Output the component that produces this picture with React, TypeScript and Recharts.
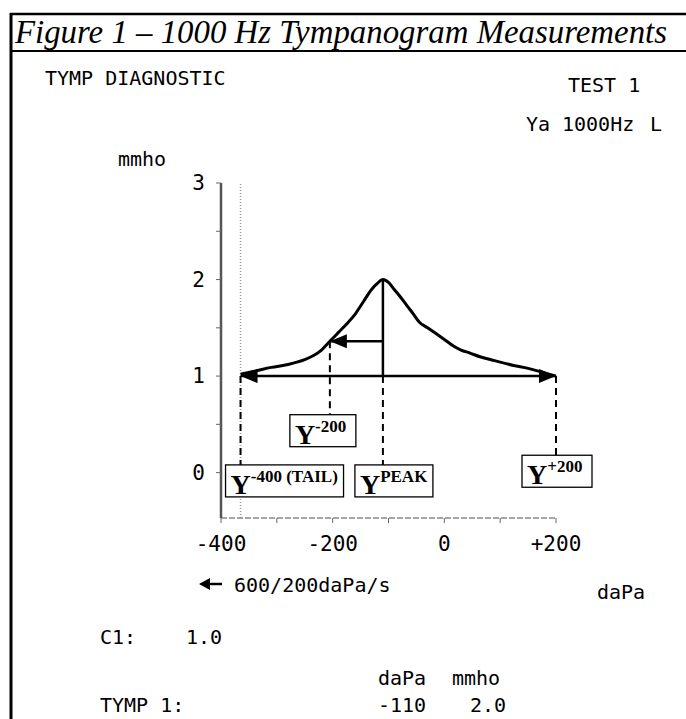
import React from 'react';
import { LineChart, Line, XAxis, YAxis, ReferenceLine, ReferenceDot } from 'recharts';

// tympanogram trace (daPa, mmho)
const pressure = [-365, -340, -310, -280, -250, -235, -220, -205, -190, -175, -160, -145, -130, -120, -110, -100, -90, -80, -67, -55, -45, -30, -15, 0, 17, 30, 45, 64, 90, 124, 150, 175, 200];
const admittance = [1.02, 1.05, 1.09, 1.12, 1.17, 1.21, 1.27, 1.36, 1.45, 1.54, 1.64, 1.77, 1.9, 1.96, 2.0, 1.97, 1.9, 1.83, 1.73, 1.64, 1.56, 1.5, 1.44, 1.38, 1.31, 1.27, 1.24, 1.2, 1.16, 1.11, 1.08, 1.04, 1.0];

const xTicks = [-400, -300, -200, -100, 0, 100, 200];
const xTickLabels: Record<number, string> = { '-400': '-400', '-200': '-200', 0: '0', 200: '+200' };
const yTicks = [0, 0.5, 1, 1.5, 2, 2.5, 3];

// measurement points
const tailP = -365;
const baseY = 1.0;
const peakP = -110;
const peakY = 2.0;
const minus200P = -205;
const minus200Y = 1.36;
const plus200P = 200;

// callout boxes: where the dashed drop line ends, and the label
const callouts = [
  { key: 'tail', x: tailP, y: 0.08, sup: '-400 (TAIL)', dx: -15, w: 118 },
  { key: 'm200', x: minus200P, y: 0.6, sup: '-200', dx: -40, w: 66 },
  { key: 'peak', x: peakP, y: 0.08, sup: 'PEAK', dx: -28, w: 78 },
  { key: 'p200', x: plus200P, y: 0.18, sup: '+200', dx: -34, w: 70 },
];

const curve = pressure.map((p, i) => ({ p, y: admittance[i] }));

const MONO = '"DejaVu Sans Mono", monospace';
const SERIF = '"Liberation Serif", "Times New Roman", serif';

function Arrowhead({ cx, cy, dir }: { cx?: number; cy?: number; dir: 'left' | 'right' }) {
  if (cx == null || cy == null) return null;
  const L = 17;
  const H = 7;
  const pts = dir === 'left'
    ? `${cx},${cy} ${cx + L},${cy - H} ${cx + L},${cy + H}`
    : `${cx},${cy} ${cx - L},${cy - H} ${cx - L},${cy + H}`;
  return <polygon points={pts} fill="#000" />;
}

function CalloutBox(props: any) {
  const { cx, cy, c } = props;
  if (cx == null || cy == null) return null;
  const left = cx + c.dx;
  return (
    <g>
      <rect x={left} y={cy} width={c.w} height={32} fill="#fff" stroke="#000" strokeWidth={1.3} />
      <text x={left + 5} y={cy + 29} fontFamily={SERIF} fontWeight="bold" fill="#000">
        <tspan fontSize={28}>Y</tspan>
        <tspan fontSize={17} dy={-12}>{c.sup}</tspan>
      </text>
    </g>
  );
}

function XTick(props: any) {
  const { x, y, payload } = props;
  const label = xTickLabels[payload.value];
  if (!label) return null;
  return (
    <text x={x} y={y + 26} textAnchor="middle" fontFamily={MONO} fontSize={21} fill="#000">
      {label}
    </text>
  );
}

function YTick(props: any) {
  const { x, y, payload } = props;
  if (!Number.isInteger(payload.value)) return null;
  return (
    <text x={x} y={y + 7} textAnchor="end" fontFamily={MONO} fontSize={21} fill="#000">
      {payload.value}
    </text>
  );
}

function T({ x, y, children, size = 20 }: any) {
  return (
    <text x={x} y={y} fontFamily={MONO} fontSize={size} fill="#000">
      {children}
    </text>
  );
}

export default function App() {
  return (
    <div style={{ position: 'absolute', left: 0, top: 0, width: 686, height: 719, background: '#fff', overflow: 'hidden' }}>
      <LineChart
        width={686}
        height={719}
        data={curve}
        margin={{ top: 183, left: 161, right: 130, bottom: 171 }}
        style={{ position: 'absolute', left: 0, top: 0 }}
      >
        <XAxis
          dataKey="p"
          type="number"
          domain={[-400, 200]}
          ticks={xTicks}
          height={30}
          tickSize={5}
          tick={<XTick />}
          axisLine={{ stroke: '#888', strokeWidth: 1.5, strokeDasharray: '6 2' }}
          tickLine={{ stroke: '#666' }}
        />
        <YAxis
          type="number"
          domain={[-0.47, 3]}
          ticks={yTicks}
          width={60}
          tickSize={5}
          tickMargin={11}
          tick={<YTick />}
          axisLine={{ stroke: '#555', strokeWidth: 2.5 }}
          tickLine={{ stroke: '#666' }}
        />
        <ReferenceLine x={tailP} stroke="#999" strokeDasharray="1 2" strokeWidth={1.5} />
        <Line
          dataKey="y"
          type="monotone"
          stroke="#000"
          strokeWidth={3}
          dot={false}
          isAnimationActive={false}
        />
        {/* peak to baseline */}
        <ReferenceLine segment={[{ x: peakP, y: peakY }, { x: peakP, y: baseY }]} stroke="#000" strokeWidth={2.5} />
        {/* Y-200 arrow */}
        <ReferenceLine segment={[{ x: peakP, y: minus200Y }, { x: minus200P, y: minus200Y }]} stroke="#000" strokeWidth={2.5} />
        {/* baseline arrow */}
        <ReferenceLine segment={[{ x: tailP, y: baseY }, { x: plus200P, y: baseY }]} stroke="#000" strokeWidth={2.5} />
        {/* dashed drops to the labels */}
        {callouts.map((c) => (
          <ReferenceLine
            key={`d-${c.key}`}
            segment={[{ x: c.x, y: c.key === 'm200' ? minus200Y : baseY }, { x: c.x, y: c.y }]}
            stroke="#000"
            strokeWidth={2}
            strokeDasharray="7 5"
          />
        ))}
        <ReferenceDot x={tailP} y={baseY} r={0} shape={(p: any) => <Arrowhead cx={p.cx} cy={p.cy} dir="left" />} />
        <ReferenceDot x={plus200P} y={baseY} r={0} shape={(p: any) => <Arrowhead cx={p.cx} cy={p.cy} dir="right" />} />
        <ReferenceDot x={minus200P} y={minus200Y} r={0} shape={(p: any) => <Arrowhead cx={p.cx} cy={p.cy} dir="left" />} />
        {callouts.map((c) => (
          <ReferenceDot key={c.key} x={c.x} y={c.y} r={0} shape={(p: any) => <CalloutBox cx={p.cx} cy={p.cy} c={c} />} />
        ))}
      </LineChart>

      <svg width={686} height={719} style={{ position: 'absolute', left: 0, top: 0, pointerEvents: 'none' }}>
        {/* figure frame */}
        <line x1={10} y1={14} x2={686} y2={14} stroke="#000" strokeWidth={2.5} />
        <line x1={10} y1={51} x2={686} y2={51} stroke="#000" strokeWidth={2} />
        <line x1={11} y1={13} x2={11} y2={719} stroke="#000" strokeWidth={3} />
        <text x={15} y={43} fontFamily={SERIF} fontStyle="italic" fontSize={33} fill="#000" textLength={652} lengthAdjust="spacingAndGlyphs">
          Figure 1 – 1000 Hz Tympanogram Measurements
        </text>

        <T x={45} y={85}>TYMP DIAGNOSTIC</T>
        <T x={568} y={92}>TEST 1</T>
        <T x={526} y={131}>Ya</T>
        <T x={562} y={131}>1000Hz</T>
        <T x={650} y={131}>L</T>
        <T x={118} y={166}>mmho</T>

        {/* sweep direction arrow */}
        <line x1={208} y1={584} x2={222} y2={584} stroke="#000" strokeWidth={2.5} />
        <polygon points="199,584 210,578 210,590" fill="#000" />
        <T x={234} y={592}>600/200daPa/s</T>
        <T x={597} y={599}>daPa</T>

        <T x={100} y={644}>C1:</T>
        <T x={186} y={644}>1.0</T>
        <T x={378} y={685}>daPa</T>
        <T x={452} y={685}>mmho</T>
        <T x={100} y={712}>TYMP 1:</T>
        <T x={378} y={712}>-110</T>
        <T x={470} y={712}>2.0</T>
      </svg>
    </div>
  );
}
